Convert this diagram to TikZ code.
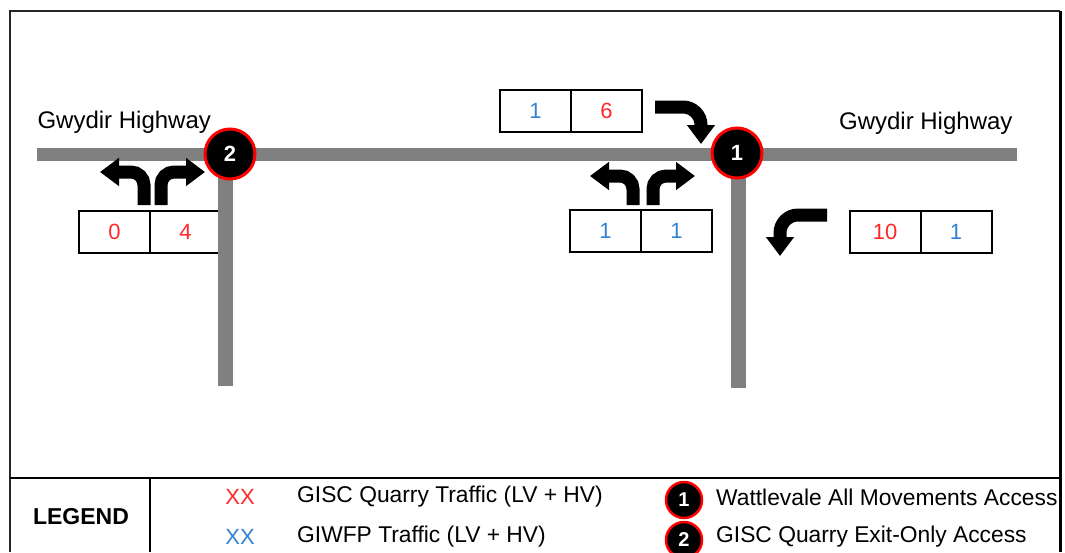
\documentclass[tikz,border=0pt]{standalone}
\usepackage{fontspec}
\setmainfont{Liberation Sans}
\usepackage{xcolor}
\usepackage{tikz}
\usetikzlibrary{arrows.meta,positioning}
\definecolor{gisc}{RGB}{255,40,40}
\definecolor{giwfp}{RGB}{50,130,210}
\definecolor{roadgrey}{RGB}{128,128,128}

\begin{document}
\begin{tikzpicture}[x=1pt,y=-1pt,font=\fontsize{22}{26}\selectfont]


	\tikzstyle{road}=[roadgrey,line width=13pt]
	\tikzstyle{cell}=[rectangle,draw,line width=2pt,outer sep=0pt,minimum width=71pt,minimum height=42pt,inner sep=0pt]
	\tikzstyle{turn}=[line width=13pt,rounded corners=13pt,-{Triangle[width=27pt,length=19pt]}]
	\tikzstyle{junction}=[circle,fill=black,draw=red,line width=3pt,minimum size=50pt,inner sep=0pt,text=white,font=\fontsize{22}{26}\selectfont\bfseries]
	\tikzstyle{keyjunction}=[junction,line width=2.5pt,minimum size=36pt,font=\fontsize{20}{22}\selectfont\bfseries]
	\tikzstyle{key}=[anchor=west,inner sep=0pt,font=\fontsize{22.8}{26}\selectfont]
	\useasboundingbox (0,0) rectangle (1065,552);

	% frame and legend rules
	\draw[black!85,line width=1.5pt] (10,552) -- (10,11) -- (1060,11);
	\draw[line width=3pt] (1060,11) -- (1060,552);
	\draw[line width=2.5pt] (10,478) -- (1060,478);
	\draw[line width=2.5pt] (150,478) -- (150,552);

	% volume boxes
	\node[cell] (wl) at (114.5,231.5) {\color{gisc}0};
	\node[cell,right=0pt of wl] (wr) {\color{gisc}4};
	\node[cell] (nl) at (535.5,110.5) {\color{giwfp}1};
	\node[cell,right=0pt of nl] (nr) {\color{gisc}6};
	\node[cell] (sl) at (605.5,231) {\color{giwfp}1};
	\node[cell,right=0pt of sl] (sr) {\color{giwfp}1};
	\node[cell] (el) at (885,231.5) {\color{gisc}10};
	\node[cell,right=0pt of el] (er) {\color{giwfp}1};

	% roads
	\coordinate (west) at (37,154);
	\coordinate (east) at (1017,154);
	\coordinate (leg2) at (225,386);
	\coordinate (leg1) at (738,388);
	\draw[road] (west) -- (east);
	\draw[road,line width=15pt] (leg2 |- west) -- (leg2);
	\draw[road,line width=15pt] (leg1 |- west) -- (leg1);

	% turning movements
	\draw[turn] (144,205) |- (100,172);
	\draw[turn] (161,205) |- (205,172);
	\draw[turn] (633,205) |- (590,176);
	\draw[turn] (653,205) |- (695,176);
	\draw[turn,rounded corners=18pt] (655,107) -| (701,144);
	\draw[turn,rounded corners=18pt] (827,215) -| (780,256);

	% accesses
	\node[junction] (j2) at (230,154) {2};
	\node[junction] (j1) at (737,153) {1};

	\node[anchor=west,font=\fontsize{24}{28}\selectfont] (hwyw) at (34,122) {Gwydir\ Highway};
	\node[anchor=east,font=\fontsize{24}{28}\selectfont] (hwye) at (1016,123) {Gwydir\ Highway};

	% legend
	\node[font=\fontsize{23}{26}\selectfont\bfseries] (legend) at (81,517) {LEGEND};
	\node (xxr) at (240,497) {\color{gisc}XX};
	\node (xxb) at (240,537) {\color{giwfp}XX};
	\node[key] (quarry) at (297,497) {GISC Quarry Traffic (LV + HV)};
	\node[key] (giwfp) at (297,537) {GIWFP Traffic (LV + HV)};
	\node[keyjunction] (k1) at (684,500) {1};
	\node[keyjunction] (k2) at (684,540) {2};
	\node[key] (wattle) at (716,497) {Wattlevale All Movements Access};
	\node[key] (exit) at (716,537) {GISC Quarry Exit-Only Access};

\end{tikzpicture}
\end{document}
